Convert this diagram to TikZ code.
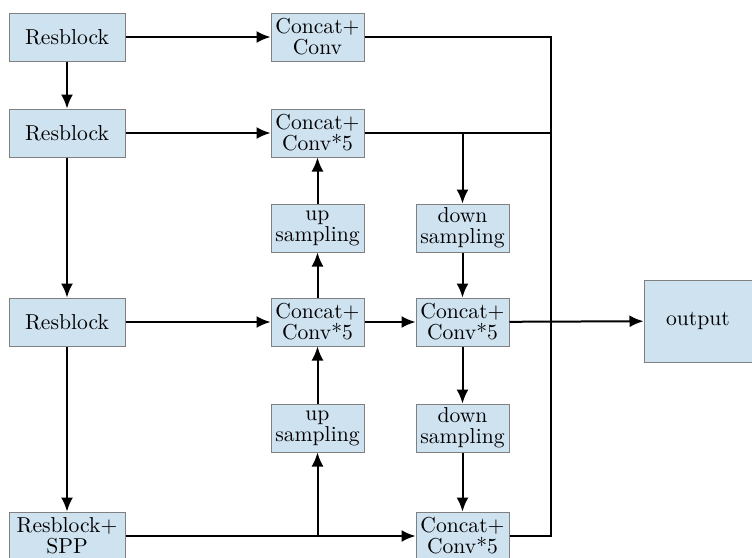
\documentclass[tikz,border=0pt]{standalone}
\usepackage{xcolor}
\usetikzlibrary{arrows.meta, positioning}
\definecolor{boxblue}{RGB}{207,226,240}
\definecolor{boxedge}{RGB}{128,128,128}

\begin{document}
\begin{tikzpicture}[x=0.5pt, y=-0.5pt,
    block/.style={rectangle, draw=boxedge, line width=0.5pt, fill=boxblue, minimum width=46.5pt, minimum height=24pt, inner sep=0pt, align=center, font=\fontsize{10.8}{10.5}\selectfont},
    arr/.style={-{Latex[length=7pt, width=6pt]}, line width=1pt},
    wire/.style={line width=1pt}]
    \useasboundingbox (0,0) rectangle (752,558);

    \node[block, minimum width=58pt] (r1) at (67,37) {Resblock};
    \node[block, minimum width=58pt] (r2) at (67,133) {Resblock};
    \node[block, minimum width=58pt] (r3) at (67,322) {Resblock};
    \node[block, minimum width=58pt] (r4) at (67,536) {Resblock+\\SPP};

    \node[block] (c1) at (317.5,37) {Concat+\\Conv};
    \node[block] (c2) at (317.5,133) {Concat+\\Conv*5};
    \node[block] (u1) at (317.5,228) {up\\sampling};
    \node[block] (c3) at (317.5,322) {Concat+\\Conv*5};
    \node[block] (u2) at (317.5,428) {up\\sampling};

    \node[block] (d1) at (462.5,228) {down\\sampling};
    \node[block] (c4) at (462.5,322) {Concat+\\Conv*5};
    \node[block] (d2) at (462.5,428) {down\\sampling};
    \node[block] (c5) at (462.5,536) {Concat+\\Conv*5};

    \node[block, minimum width=54pt, minimum height=41pt] (out) at (698,321) {output};

    \coordinate (bus1) at (551,37);
    \coordinate (bus2) at (551,133);
    \coordinate (bus5) at (551,536);
    \coordinate (split2) at (462.5,133);
    \coordinate (split5) at (317.5,536);

    % backbone
    \draw[arr] (r1) -- (r2);
    \draw[arr] (r2) -- (r3);
    \draw[arr] (r3) -- (r4);

    % lateral links
    \draw[arr] (r1) -- (c1);
    \draw[arr] (r2) -- (c2);
    \draw[arr] (r3) -- (c3);
    \draw[arr] (r4) -- (c5);
    \draw[arr] (c3) -- (c4);
    \draw[arr] (c4) -- (out);

    % up and down paths
    \draw[arr] (split5) -- (u2);
    \draw[arr] (u2) -- (c3);
    \draw[arr] (c3) -- (u1);
    \draw[arr] (u1) -- (c2);
    \draw[arr] (split2) -- (d1);
    \draw[arr] (d1) -- (c4);
    \draw[arr] (c4) -- (d2);
    \draw[arr] (d2) -- (c5);

    % right bus
    \draw[wire] (c1) -- (bus1) -- (bus5) -- (c5);
    \draw[wire] (c2) -- (bus2);
\end{tikzpicture}
\end{document}
